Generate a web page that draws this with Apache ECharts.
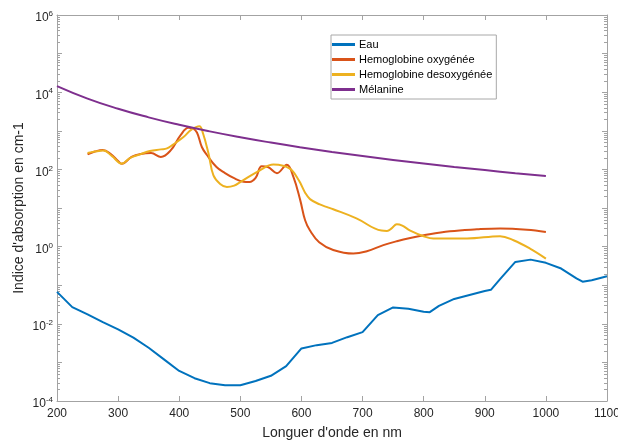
<!DOCTYPE html>
<html>
<head>
<meta charset="utf-8">
<script src="https://cdn.jsdelivr.net/npm/echarts@6/dist/echarts.min.js"></script>
<style>
  html, body { margin: 0; padding: 0; background: #fff; }
  #chart { width: 618px; height: 440px; }
</style>
</head>
<body>
<div id="chart"></div>
<script>
// Absorption spectra (cm-1) versus wavelength (nm)
const waterNm = [200, 225, 250, 275, 300, 325, 350, 375, 400, 425, 450, 475, 500, 525, 550, 575, 600, 625, 650, 675, 700, 725, 750, 775, 800, 810, 825, 850, 875, 900, 910, 925, 950, 975, 1000, 1025, 1050, 1060, 1075, 1100];
const waterMua = [0.067, 0.027, 0.0175, 0.011, 0.0072, 0.0044, 0.0024, 0.0012, 0.0006, 0.00039, 0.00029, 0.000255, 0.000257, 0.00033, 0.00045, 0.0008, 0.0023, 0.0028, 0.0032, 0.0045, 0.0061, 0.0168, 0.0265, 0.0245, 0.0205, 0.020, 0.029, 0.044, 0.056, 0.071, 0.076, 0.143, 0.40, 0.46, 0.38, 0.27, 0.15, 0.123, 0.134, 0.17];

const hbO2Nm = [250, 262, 275, 288, 300, 306, 322, 337, 354, 370, 386, 402, 415, 422, 429, 437, 445, 461, 475, 489, 505, 515, 525, 535, 545, 560, 576, 587, 598, 606, 614, 629, 652, 685, 707, 734, 756, 778, 800, 843, 887, 925, 969, 1000];
const hbO2Mua = [245, 290, 320, 250, 165, 140, 210, 250, 265, 210, 310, 760, 1200, 1150, 900, 380, 240, 115, 80, 60, 48, 47, 60, 120, 115, 80, 132, 63, 16, 4.8, 2.6, 1.3, 0.82, 0.66, 0.76, 1.09, 1.38, 1.68, 1.97, 2.5, 2.8, 2.95, 2.75, 2.4];

const hbNm = [250, 262, 276, 290, 306, 320, 336, 352, 370, 380, 390, 407, 420, 433, 439, 448, 456, 467, 478, 490, 500, 532, 554, 570, 581, 587, 592, 598, 606, 614, 630, 641, 652, 690, 731, 740, 748, 756, 765, 778, 800, 816, 871, 925, 947, 974, 1000];
const hbMua = [265, 290, 310, 220, 141, 200, 245, 300, 330, 350, 440, 690, 1070, 1310, 850, 255, 70, 42, 35, 38, 47, 95, 133, 125, 105, 85, 65, 45, 25, 17, 12.4, 10.7, 9.3, 5.4, 2.6, 2.55, 3.0, 3.8, 3.5, 2.6, 1.86, 1.62, 1.62, 1.86, 1.46, 0.89, 0.49];

const melaninNm = [200, 250, 300, 350, 400, 450, 500, 550, 600, 650, 700, 750, 800, 850, 900, 950, 1000];
const melaninMua = [14400, 6840, 3720, 2230, 1430, 966, 680, 496, 371, 284, 222, 176, 142, 116, 96, 80, 67.6];

const seriesNames = ['Eau', 'Hemoglobine oxygénée', 'Hemoglobine desoxygénée', 'Mélanine'];
const seriesColors = ['#0072BD', '#D95319', '#EDB120', '#7E2F8E'];

const xTicks = [200, 300, 400, 500, 600, 700, 800, 900, 1000, 1100];
const yMin = 1e-4, yMax = 1e6;

// log-scale minor tick positions (2..9 in each decade)
const minorTickValues = [];
for (let e = -4; e < 6; e++) {
  for (let k = 2; k <= 9; k++) minorTickValues.push(k * Math.pow(10, e));
}

const zip = (xs, ys) => xs.map((x, i) => [x, ys[i]]);

const FONT = '"Liberation Sans", Arial, Helvetica, sans-serif';
const AXIS_COLOR = '#a3a3a3';
const TEXT_COLOR = '#262626';

const chart = echarts.init(document.getElementById('chart'), null, { renderer: 'canvas' });

function lineSeries(i, xs, ys, smooth) {
  return {
    name: seriesNames[i],
    type: 'line',
    data: zip(xs, ys),
    showSymbol: false,
    symbol: 'none',
    smooth: smooth,
    lineStyle: { color: seriesColors[i], width: 2 },
    itemStyle: { color: seriesColors[i] },
    z: 3 + i
  };
}

const option = {
  animation: false,
  backgroundColor: '#fff',
  textStyle: { fontFamily: FONT },
  grid: { left: 57, right: 11, top: 15, bottom: 39, containLabel: false, outerBoundsMode: 'none' },
  legend: {
    data: seriesNames,
    orient: 'vertical',
    left: 331,
    top: 35,
    padding: [3, 4, 3, 1],
    itemGap: 2,
    itemWidth: 23,
    itemHeight: 3,
    icon: 'rect',
    backgroundColor: '#fff',
    borderColor: '#a8a8a8',
    borderWidth: 1,
    borderRadius: 0,
    textStyle: { fontSize: 11, color: '#000', fontFamily: FONT, padding: [0, 0, 0, -1], lineHeight: 13 }
  },
  xAxis: [
    {
      type: 'value',
      min: xTicks[0],
      max: xTicks[xTicks.length - 1],
      interval: 100,
      name: "Longuer d'onde en nm",
      nameLocation: 'middle',
      nameGap: 25,
      nameMoveOverlap: false,
      nameTextStyle: { fontSize: 14, color: TEXT_COLOR, fontFamily: FONT },
      axisLine: { lineStyle: { color: AXIS_COLOR, width: 1 } },
      axisTick: { inside: true, length: 5, lineStyle: { color: AXIS_COLOR } },
      axisLabel: {
        fontSize: 12, color: TEXT_COLOR, margin: 7, fontFamily: FONT,
        formatter: v => String(v)
      },
      splitLine: { show: false }
    },
    {
      type: 'value',
      position: 'top',
      min: xTicks[0],
      max: xTicks[xTicks.length - 1],
      interval: 100,
      axisLine: { lineStyle: { color: AXIS_COLOR, width: 1 } },
      axisTick: { inside: true, length: 5, lineStyle: { color: AXIS_COLOR } },
      axisLabel: { show: false },
      splitLine: { show: false }
    }
  ],
  yAxis: [
    {
      type: 'log',
      logBase: 10,
      min: yMin,
      max: yMax,
      splitNumber: 10,
      name: "Indice d'absorption en cm-1",
      nameLocation: 'middle',
      nameGap: 31,
      nameMoveOverlap: false,
      nameTextStyle: { fontSize: 14, color: TEXT_COLOR, fontFamily: FONT },
      axisLine: { show: true, lineStyle: { color: AXIS_COLOR, width: 1 } },
      axisTick: { inside: true, length: 5, lineStyle: { color: AXIS_COLOR } },
      axisLabel: {
        margin: 4,
        color: TEXT_COLOR,
        fontFamily: FONT,
        padding: [6, 0, 0, 0],
        formatter: function (v) {
          const e = Math.round(Math.log10(v));
          if (e % 2 !== 0) return '';
          return '{b|10}{s|' + e + '}';
        },
        rich: {
          b: { fontSize: 12, color: TEXT_COLOR, fontFamily: FONT },
          s: { fontSize: 8, color: TEXT_COLOR, fontFamily: FONT, padding: [0, 0, 8, 0] }
        }
      },
      splitLine: { show: false }
    },
    {
      type: 'log',
      logBase: 10,
      min: yMin,
      max: yMax,
      splitNumber: 10,
      position: 'right',
      axisLine: { show: true, lineStyle: { color: AXIS_COLOR, width: 1 } },
      axisTick: { inside: true, length: 5, lineStyle: { color: AXIS_COLOR } },
      axisLabel: { show: false },
      splitLine: { show: false }
    }
  ],
  series: [
    {
      // minor log ticks on left and right frame edges
      type: 'custom',
      silent: true,
      clip: false,
      z: 1,
      data: minorTickValues.map(v => [xTicks[0], v]),
      renderItem: function (params, api) {
        const y = Math.round(api.coord([xTicks[0], api.value(1)])[1]) + 0.5;
        const cs = params.coordSys;
        return {
          type: 'group',
          children: [
            { type: 'line', shape: { x1: cs.x, y1: y, x2: cs.x + 3, y2: y }, style: { stroke: AXIS_COLOR, lineWidth: 1 } },
            { type: 'line', shape: { x1: cs.x + cs.width, y1: y, x2: cs.x + cs.width - 3, y2: y }, style: { stroke: AXIS_COLOR, lineWidth: 1 } }
          ]
        };
      }
    },
    lineSeries(0, waterNm, waterMua, false),
    lineSeries(1, hbO2Nm, hbO2Mua, 0.4),
    lineSeries(2, hbNm, hbMua, 0.4),
    lineSeries(3, melaninNm, melaninMua, true)
  ]
};

chart.setOption(option);
</script>
</body>
</html>
